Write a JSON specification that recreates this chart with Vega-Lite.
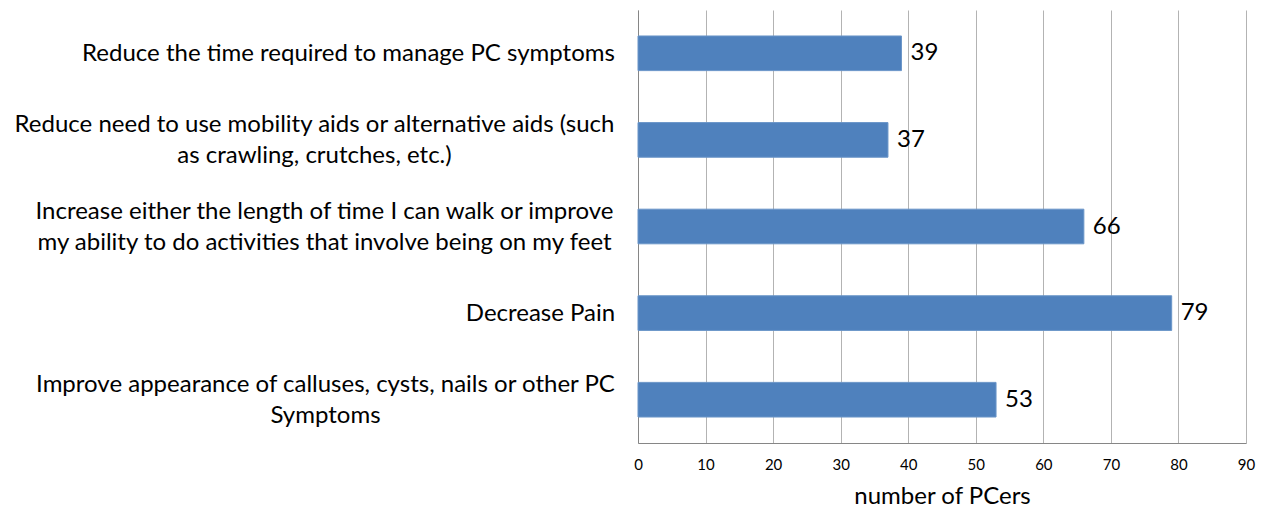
{
  "$schema": "https://vega.github.io/schema/vega-lite/v6.json",
  "width": 608,
  "height": 433,
  "autosize": "none",
  "padding": {"left": 638, "top": 10, "right": 20, "bottom": 65},
  "background": "white",
  "config": {"view": {"stroke": null}, "font": "Lato"},
  "data": {"values": [
    {"goal": "Reduce the time required to manage PC symptoms", "count": 39},
    {"goal": "Reduce need to use mobility aids or alternative aids (such|as crawling, crutches, etc.)", "count": 37},
    {"goal": "Increase either the length of time I can walk or improve|my ability to do activities that involve being on my feet", "count": 66},
    {"goal": "Decrease Pain", "count": 79},
    {"goal": "Improve appearance of calluses, cysts, nails or other PC|Symptoms", "count": 53}
  ]},
  "encoding": {
    "y": {
      "field": "goal", "type": "nominal", "sort": null,
      "scale": {"paddingInner": 0.6, "paddingOuter": 0.3},
      "axis": {
        "title": null, "ticks": false, "tickSize": 0, "grid": false,
        "domainColor": "#868686", "domainWidth": 1,
        "labelExpr": "split(datum.label, '|')",
        "labelLimit": 0, "labelFontSize": 24, "labelLineHeight": 31,
        "labelColor": "#000000", "labelAlign": "center", "labelBaseline": "middle",
        "labelOffset": {
          "condition": {"test": "indexof(datum.value, '|') >= 0", "value": -15},
          "value": 1
        },
        "labelPadding": {
          "condition": [
            {"test": "indexof(datum.value, 'Reduce the') == 0", "value": 290},
            {"test": "indexof(datum.value, 'Reduce need') == 0", "value": 324},
            {"test": "indexof(datum.value, 'Increase') == 0", "value": 314},
            {"test": "indexof(datum.value, 'Decrease') == 0", "value": 98}
          ],
          "value": 313
        }
      }
    }
  },
  "layer": [
    {
      "mark": {"type": "bar", "color": "#4f81bd", "stroke": "#6a95c8", "strokeWidth": 1},
      "encoding": {
        "x": {
          "field": "count", "type": "quantitative",
          "scale": {"domain": [0, 90]},
          "axis": {
            "values": [0, 10, 20, 30, 40, 50, 60, 70, 80, 90],
            "title": "number of PCers", "titleFontSize": 24, "titleFontWeight": "normal",
            "titleColor": "#000000", "titlePadding": 12,
            "labelFontSize": 15, "labelColor": "#000000", "labelPadding": 14,
            "labelFlush": false,
            "ticks": false, "tickSize": 0,
            "grid": true, "gridColor": "#b3b3b3", "gridWidth": 1,
            "domainColor": "#868686"
          }
        }
      }
    },
    {
      "mark": {"type": "text", "align": "left", "baseline": "middle", "dx": 9, "fontSize": 24, "color": "#000000"},
      "encoding": {
        "x": {"field": "count", "type": "quantitative"},
        "text": {"field": "count", "type": "quantitative"}
      }
    }
  ]
}
